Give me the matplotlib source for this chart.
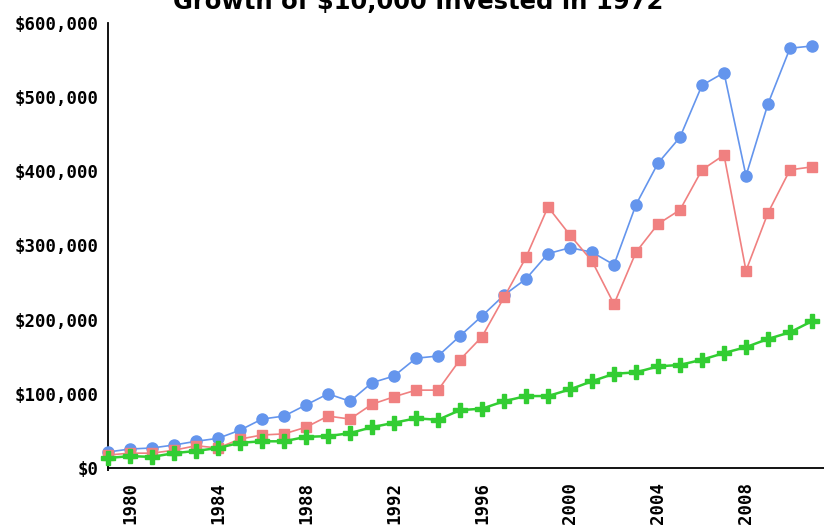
import matplotlib
matplotlib.use("Agg")
import matplotlib.pyplot as plt
from matplotlib.ticker import FuncFormatter, FixedLocator, NullFormatter
from matplotlib.font_manager import FontProperties

years = list(range(1979, 2012))

blue_values = [21600, 25600, 27000, 31000, 36000, 40000, 51000, 66000, 70000, 85000,
               100000, 90000, 115000, 124000, 148000, 151000, 178000, 205000, 233000, 255000,
               289000, 297000, 291000, 274000, 355000, 411000, 446000, 516000, 533000, 394000,
               491000, 566000, 569000]

red_values = [17500, 20000, 20000, 24000, 30000, 27000, 39000, 44500, 46000, 55000,
              70000, 66000, 86000, 96000, 105000, 105000, 146000, 177000, 230000, 284000,
              352000, 314000, 279000, 221000, 291000, 329000, 348000, 402000, 422000, 266000,
              344000, 402000, 406000]

green_values = [13500, 16000, 15000, 20000, 23000, 27000, 34000, 36000, 36000, 42000,
                43000, 47000, 55000, 61000, 67000, 65000, 78000, 80000, 90000, 97000,
                97000, 106000, 117000, 127000, 129000, 137000, 139000, 146000, 155000, 163000,
                174000, 183000, 198000]

x_ticks = [1980, 1984, 1988, 1992, 1996, 2000, 2004, 2008]
y_ticks = [0, 100000, 200000, 300000, 400000, 500000, 600000]
title = "Growth of $10,000 Invested in 1972"

W, H = 824, 528
fig = plt.figure(figsize=(W / 100, H / 100), dpi=100)
ax = fig.add_axes([108 / W, (H - 468) / H, (W - 108) / W, (468 - 23) / H])

ax.plot(years, blue_values, color="#6495ED", lw=1.2, marker="o", ms=8,
        mec="#6495ED", mfc="#6495ED", clip_on=False, zorder=3)
ax.plot(years, red_values, color="#F08080", lw=1.2, marker="s", ms=7.8,
        mec="#F08080", mfc="#F08080", clip_on=False, zorder=4)
ax.plot(years, green_values, color="#32CD32", lw=1.8, marker="P", ms=10,
        mec="#32CD32", mfc="#32CD32", clip_on=False, zorder=5)

ax.set_xlim(1979, 1979 + (W - 108) / 22.0)
ax.set_ylim(0, 600000)

for side in ("top", "right"):
    ax.spines[side].set_visible(False)
for side in ("left", "bottom"):
    ax.spines[side].set_linewidth(1.3)
    ax.spines[side].set_color("#000000")

ax.xaxis.set_major_locator(FixedLocator(x_ticks))
ax.yaxis.set_major_locator(FixedLocator(y_ticks))
ax.yaxis.set_major_formatter(FuncFormatter(lambda v, p: "${:,.0f}".format(v)))
ax.xaxis.set_minor_locator(FixedLocator([1979]))
ax.yaxis.set_minor_locator(FixedLocator([0]))
ax.xaxis.set_minor_formatter(NullFormatter())
ax.yaxis.set_minor_formatter(NullFormatter())

ax.tick_params(axis="both", which="major", length=0)
ax.tick_params(axis="both", which="minor", length=5, width=1.3, direction="inout")
ax.tick_params(axis="y", which="major", pad=7)
ax.tick_params(axis="x", which="major", pad=10)
fp = FontProperties(family="DejaVu Sans Mono", weight="bold", size=12.5)
for lab in ax.get_yticklabels():
    lab.set_fontproperties(fp)
for lab in ax.get_xticklabels():
    lab.set_fontproperties(fp)
    lab.set_rotation(90)
    lab.set_va("top")

t = fig.text(418 / W, 1 - 9 / H, title, ha="center", va="baseline",
             fontsize=15.5, fontweight="bold", family="DejaVu Sans")
fig.canvas.draw()
bb = t.get_window_extent()
t.set_fontsize(15.5 * 489.0 / bb.width)

fig.savefig("out.png", dpi=100)
